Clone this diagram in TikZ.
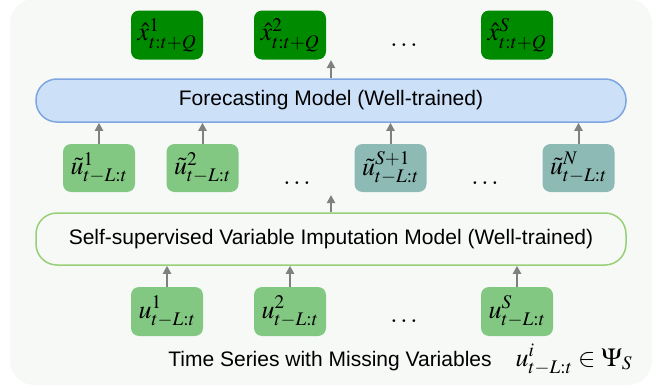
\documentclass[tikz,border=0pt]{standalone}
\usepackage{mathptmx}
\usepackage[no-math]{fontspec}
\setmainfont{Liberation Sans}
\usetikzlibrary{arrows.meta,positioning}
\definecolor{bgc}{HTML}{F7F9F7}
\definecolor{outc}{HTML}{008A00}
\definecolor{inc}{HTML}{82C882}
\definecolor{restc}{HTML}{8EBAB6}
\definecolor{fmfill}{HTML}{CCE0F8}
\definecolor{fmline}{HTML}{7EA6E0}
\definecolor{imline}{HTML}{97D077}
\definecolor{arrc}{HTML}{808080}
\newcommand{\mfont}{\fontsize{26}{30}\selectfont}
\tikzset{
  var/.style={rounded corners=8pt, minimum width=72pt, minimum height=49pt, inner sep=0pt, font=\mfont},
  model/.style={rounded corners=21pt, line width=1.5pt, minimum width=590pt, inner sep=0pt, font=\fontsize{21}{25}\selectfont},
  up/.style={->, draw=arrc, line width=2pt, >={Triangle[length=8pt,width=8pt]}}
}
\begin{document}
\begin{tikzpicture}[x=1pt,y=-1pt]
		\useasboundingbox (0,0) rectangle (657,388);
		\fill[bgc, rounded corners=24pt] (10,-1) rectangle (652,385);
		
		\node (x1) [var, fill=outc] at (167,35) {$\hat{x}^1_{t:t+Q}$};
		\node (x2) [var, fill=outc] at (290,35) {$\hat{x}^2_{t:t+Q}$};
		\node (xd) [font=\mfont, anchor=base] at (404,46) {$\dots$};
		\node (xs) [var, fill=outc] at (517,35) {$\hat{x}^S_{t:t+Q}$};
		
		\node (fm) [model, draw=fmline, fill=fmfill, minimum height=43pt] at (331,100.5) {Forecasting Model (Well-trained)};
		
		\node (v1) [var, fill=inc, minimum height=48pt] at (99,168) {$\tilde{u}^1_{t-L:t}$};
		\node (v2) [var, fill=inc, minimum height=48pt] at (202.5,168) {$\tilde{u}^2_{t-L:t}$};
		\node (vd1) [font=\mfont, anchor=base] at (297,184) {$\dots$};
		\node (vs) [var, fill=restc, minimum height=48pt] at (390.5,168) {$\tilde{u}^{S+1}_{t-L:t}$};
		\node (vd2) [font=\mfont, anchor=base] at (485,184) {$\dots$};
		\node (vn) [var, fill=restc, minimum height=48pt] at (578.5,168) {$\tilde{u}^N_{t-L:t}$};
		
		\node (im) [model, draw=imline, fill=bgc, minimum height=52pt] at (331,239) {Self-supervised Variable Imputation Model (Well-trained)};
		
		\node (u1) [var, fill=inc] at (167,311.5) {$u^1_{t-L:t}$};
		\node (u2) [var, fill=inc] at (290,311.5) {$u^2_{t-L:t}$};
		\node (ud) [font=\mfont, anchor=base] at (404,322) {$\dots$};
		\node (us) [var, fill=inc] at (517,311.5) {$u^S_{t-L:t}$};
		
		\node (cap) [font=\fontsize{21}{25}\selectfont, anchor=base] at (330,366) {Time Series with Missing Variables};
		\node (set) [font=\mfont, anchor=base west] at (512,366) {$u^i_{t-L:t}\in\Psi_S$};
		
		\coordinate (top) at (fm.north |- 0,60);
		\coordinate (mid) at (im.north |- 0,195);
		
		\draw[up] (fm.north) -> (top);
		\draw[up] (im.north) -> (mid);
		\draw[up] (v1.north) -> (v1.north |- fm.south);
		\draw[up] (v2.north) -> (v2.north |- fm.south);
		\draw[up] (vs.north) -> (vs.north |- fm.south);
		\draw[up] (vn.north) -> (vn.north |- fm.south);
		\draw[up] (u1.north) -> (u1.north |- im.south);
		\draw[up] (u2.north) -> (u2.north |- im.south);
		\draw[up] (us.north) -> (us.north |- im.south);
		\end{tikzpicture}
\end{document}
